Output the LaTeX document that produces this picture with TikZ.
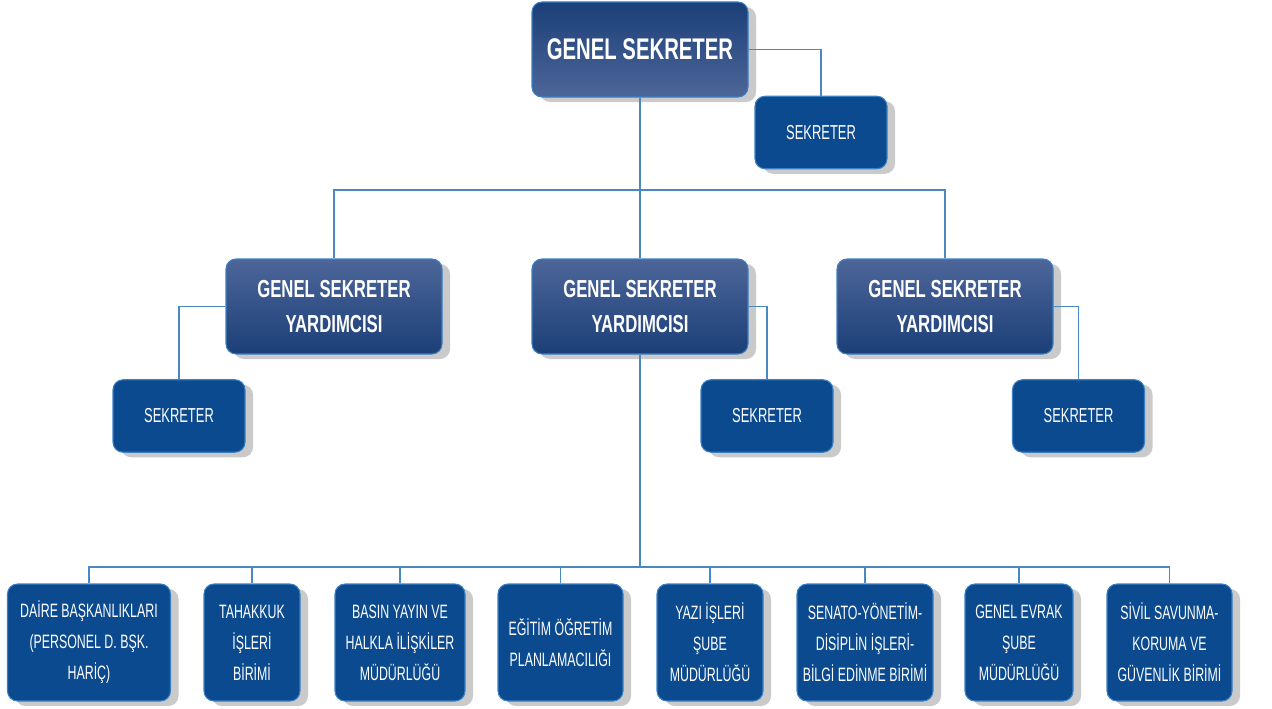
\documentclass[tikz,border=0pt]{standalone}
\usepackage{fontspec}
\setmainfont{Liberation Sans}
\newfontfamily\narrowfont[FakeStretch=0.64]{Liberation Sans}
\newfontfamily\narrowbold[FakeStretch=0.68]{Liberation Sans Bold}
\usepackage{tikz}
\usetikzlibrary{shadows}

\definecolor{boxblue}{HTML}{0B4A8E}
\definecolor{rimblue}{HTML}{3C80C4}
\definecolor{darkblue}{HTML}{1B3F78}
\definecolor{paleblue}{HTML}{4D6699}
\definecolor{wireblue}{HTML}{4A88C0}

\begin{document}
\begin{tikzpicture}[
        box/.style={draw=rimblue, line width=0.6pt, rounded corners=0.2cm, text=white, align=center,
            drop shadow={shadow xshift=0.16cm, shadow yshift=-0.1cm, opacity=0.35, fill=black!60}},
        chief/.style={box, top color=darkblue, bottom color=paleblue, minimum width=4.32cm, minimum height=1.9cm,
            font={\narrowbold\fontsize{17}{20}\selectfont}},
        deputy/.style={box, top color=paleblue, bottom color=darkblue, minimum width=4.32cm, minimum height=1.9cm,
            font={\narrowbold\fontsize{14}{20}\selectfont}},
        secretary/.style={box, fill=boxblue, minimum width=2.64cm, minimum height=1.45cm,
            font={\narrowfont\fontsize{11.5}{14}\selectfont}},
        unit/.style={box, fill=boxblue, minimum height=2.34cm, inner sep=1pt,
            font={\narrowfont\fontsize{11}{17.6}\selectfont}},
        link/.style={draw=wireblue, line width=0.8pt}
      ]
        \useasboundingbox (0,0) rectangle (25.44,14.16);

        % Top level
        \node[chief] (gs) at (12.8,13.17) {GENEL SEKRETER};
        \node[secretary] (sek0) at (16.42,11.51) {SEKRETER};

        % Deputies
        \node[deputy] (gsy1) at (6.68,8.03) {GENEL SEKRETER\\YARDIMCISI};
        \node[deputy] (gsy2) at (12.8,8.03) {GENEL SEKRETER\\YARDIMCISI};
        \node[deputy] (gsy3) at (18.9,8.03) {GENEL SEKRETER\\YARDIMCISI};

        \node[secretary] (sek1) at (3.58,5.84) {SEKRETER};
        \node[secretary] (sek2) at (15.34,5.84) {SEKRETER};
        \node[secretary] (sek3) at (21.57,5.84) {SEKRETER};

        % Units
        \node[unit, minimum width=3.26cm] (b1) at (1.78,1.31) {DAİRE BAŞKANLIKLARI\\(PERSONEL D. BŞK.\\HARİÇ)};
        \node[unit, minimum width=1.92cm] (b2) at (5.04,1.31) {TAHAKKUK\\İŞLERİ\\BİRİMİ};
        \node[unit, minimum width=2.6cm] (b3) at (8.0,1.31) {BASIN YAYIN VE\\HALKLA İLİŞKİLER\\MÜDÜRLÜĞÜ};
        \node[unit, minimum width=2.5cm] (b4) at (11.21,1.31) {EĞİTİM ÖĞRETİM\\PLANLAMACILIĞI};
        \node[unit, minimum width=2.12cm] (b5) at (14.2,1.31) {YAZI İŞLERİ\\ŞUBE\\MÜDÜRLÜĞÜ};
        \node[unit, minimum width=2.72cm] (b6) at (17.3,1.31) {SENATO-YÖNETİM-\\DİSİPLİN İŞLERİ-\\BİLGİ EDİNME BİRİMİ};
        \node[unit, minimum width=2.16cm] (b7) at (20.38,1.31) {GENEL EVRAK\\ŞUBE\\MÜDÜRLÜĞÜ};
        \node[unit, minimum width=2.5cm] (b8) at (23.39,1.31) {SİVİL SAVUNMA-\\KORUMA VE\\GÜVENLİK BİRİMİ};

        % Connections
        \coordinate (bus1) at (12.8,10.36);
        \coordinate (bus2) at (12.8,2.82);
        \begin{scope}[on background layer/.try]
        \draw[link] (gs.east) -| (sek0.north);
        \draw[link] (gs.south) -- (bus1);
        \draw[link] (bus1) -| (gsy1.north);
        \draw[link] (bus1) -- (gsy2.north);
        \draw[link] (bus1) -| (gsy3.north);
        \draw[link] (gsy1.west) -| (sek1.north);
        \draw[link] (gsy2.east) -| (sek2.north);
        \draw[link] (gsy3.east) -| (sek3.north);
        \draw[link] (gsy2.south) -- (bus2);
        \foreach \i in {1,...,8} {
            \draw[link] (bus2) -| (b\i.north);
        }
        \end{scope}
    \end{tikzpicture}
\end{document}
